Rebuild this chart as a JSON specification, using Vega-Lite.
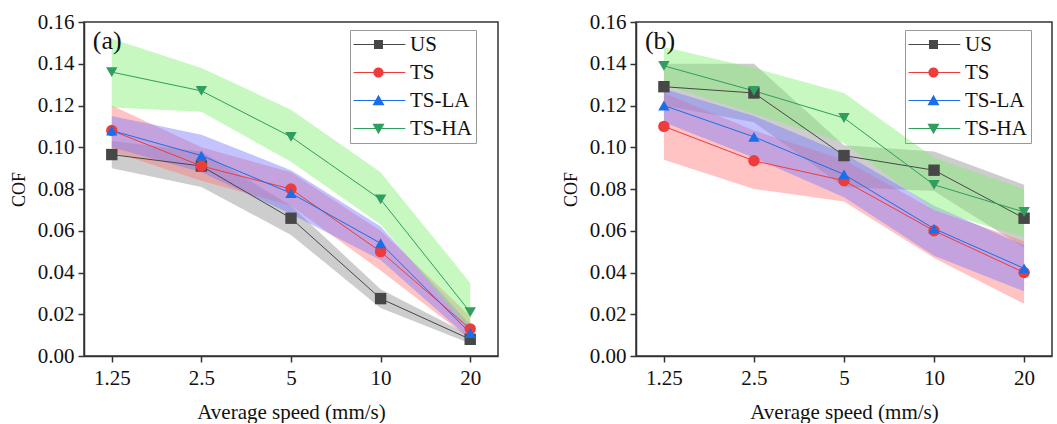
{
  "$schema": "https://vega.github.io/schema/vega-lite/v6.json",
  "padding": {"left": 9, "top": 10, "right": 2, "bottom": 0},
  "spacing": 62,
  "datasets": {
    "a": [
      {"series": "US", "speed": "1.25", "cof": 0.0965, "lo": 0.090, "hi": 0.103},
      {"series": "US", "speed": "2.5", "cof": 0.091, "lo": 0.081, "hi": 0.098},
      {"series": "US", "speed": "5", "cof": 0.066, "lo": 0.058, "hi": 0.072},
      {"series": "US", "speed": "10", "cof": 0.0275, "lo": 0.023, "hi": 0.032},
      {"series": "US", "speed": "20", "cof": 0.008, "lo": 0.006, "hi": 0.010},
      {"series": "TS", "speed": "1.25", "cof": 0.108, "lo": 0.098, "hi": 0.120},
      {"series": "TS", "speed": "2.5", "cof": 0.091, "lo": 0.084, "hi": 0.100},
      {"series": "TS", "speed": "5", "cof": 0.080, "lo": 0.072, "hi": 0.088},
      {"series": "TS", "speed": "10", "cof": 0.050, "lo": 0.041, "hi": 0.060},
      {"series": "TS", "speed": "20", "cof": 0.013, "lo": 0.008, "hi": 0.019},
      {"series": "TS-LA", "speed": "1.25", "cof": 0.108, "lo": 0.100, "hi": 0.115},
      {"series": "TS-LA", "speed": "2.5", "cof": 0.096, "lo": 0.088, "hi": 0.106},
      {"series": "TS-LA", "speed": "5", "cof": 0.078, "lo": 0.068, "hi": 0.089},
      {"series": "TS-LA", "speed": "10", "cof": 0.054, "lo": 0.046, "hi": 0.062},
      {"series": "TS-LA", "speed": "20", "cof": 0.011, "lo": 0.008, "hi": 0.015},
      {"series": "TS-HA", "speed": "1.25", "cof": 0.136, "lo": 0.119, "hi": 0.152},
      {"series": "TS-HA", "speed": "2.5", "cof": 0.127, "lo": 0.117, "hi": 0.138},
      {"series": "TS-HA", "speed": "5", "cof": 0.105, "lo": 0.093, "hi": 0.118},
      {"series": "TS-HA", "speed": "10", "cof": 0.075, "lo": 0.063, "hi": 0.088},
      {"series": "TS-HA", "speed": "20", "cof": 0.021, "lo": 0.012, "hi": 0.035}
    ],
    "b": [
      {"series": "US", "speed": "1.25", "cof": 0.129, "lo": 0.120, "hi": 0.140},
      {"series": "US", "speed": "2.5", "cof": 0.126, "lo": 0.112, "hi": 0.140},
      {"series": "US", "speed": "5", "cof": 0.096, "lo": 0.081, "hi": 0.101},
      {"series": "US", "speed": "10", "cof": 0.089, "lo": 0.079, "hi": 0.098},
      {"series": "US", "speed": "20", "cof": 0.066, "lo": 0.052, "hi": 0.082},
      {"series": "TS", "speed": "1.25", "cof": 0.110, "lo": 0.094, "hi": 0.126},
      {"series": "TS", "speed": "2.5", "cof": 0.0935, "lo": 0.080, "hi": 0.108},
      {"series": "TS", "speed": "5", "cof": 0.084, "lo": 0.074, "hi": 0.094},
      {"series": "TS", "speed": "10", "cof": 0.060, "lo": 0.047, "hi": 0.070},
      {"series": "TS", "speed": "20", "cof": 0.040, "lo": 0.025, "hi": 0.055},
      {"series": "TS-LA", "speed": "1.25", "cof": 0.120, "lo": 0.112, "hi": 0.128},
      {"series": "TS-LA", "speed": "2.5", "cof": 0.105, "lo": 0.095, "hi": 0.115},
      {"series": "TS-LA", "speed": "5", "cof": 0.087, "lo": 0.076, "hi": 0.097},
      {"series": "TS-LA", "speed": "10", "cof": 0.061, "lo": 0.048, "hi": 0.072},
      {"series": "TS-LA", "speed": "20", "cof": 0.042, "lo": 0.031, "hi": 0.053},
      {"series": "TS-HA", "speed": "1.25", "cof": 0.139, "lo": 0.130, "hi": 0.148},
      {"series": "TS-HA", "speed": "2.5", "cof": 0.127, "lo": 0.116, "hi": 0.138},
      {"series": "TS-HA", "speed": "5", "cof": 0.114, "lo": 0.102, "hi": 0.126},
      {"series": "TS-HA", "speed": "10", "cof": 0.082, "lo": 0.070, "hi": 0.095},
      {"series": "TS-HA", "speed": "20", "cof": 0.069, "lo": 0.057, "hi": 0.080}
    ]
  },
  "resolve": {
    "scale": {"color": "independent", "shape": "independent", "fill": "independent", "stroke": "independent"},
    "legend": {"color": "independent", "shape": "independent"}
  },
  "hconcat": [
    {
      "width": 414,
      "height": 334,
      "data": {"name": "a"},
      "resolve": {"scale": {"color": "independent", "shape": "independent"}},
      "layer": [
        {
          "mark": {"type": "area", "fillOpacity": 0.45},
          "encoding": {
            "x": {"field": "speed", "type": "ordinal", "sort": ["1.25", "2.5", "5", "10", "20"], "scale": {"type": "point", "padding": 0.31}, "axis": {"title": "Average speed (mm/s)", "labelAngle": 0, "tickSize": 6, "labelPadding": 5, "titlePadding": 13}},
            "y": {"field": "lo", "type": "quantitative", "stack": null, "scale": {"domain": [0, 0.16], "nice": false}, "axis": {"title": "COF", "titleFontSize": 18, "titlePadding": 9, "labelPadding": 4, "values": [0, 0.01, 0.02, 0.03, 0.04, 0.05, 0.06, 0.07, 0.08, 0.09, 0.1, 0.11, 0.12, 0.13, 0.14, 0.15, 0.16], "labelExpr": "round(datum.value*100) % 2 == 0 ? format(datum.value, '.2f') : ''", "tickSize": {"condition": {"test": "round(datum.value*100) % 2 == 0", "value": 6}, "value": 3}}},
            "y2": {"field": "hi"},
            "fill": {"field": "series", "type": "nominal", "scale": {"domain": ["US", "TS", "TS-LA", "TS-HA"], "range": ["#909090", "#ff7a7a", "#7a7aff", "#80f070"]}, "legend": null}
          }
        },
        {
          "mark": {"type": "line", "strokeWidth": 1},
          "encoding": {
            "x": {"field": "speed", "type": "ordinal", "sort": ["1.25", "2.5", "5", "10", "20"]},
            "y": {"field": "cof", "type": "quantitative"},
            "stroke": {"field": "series", "type": "nominal", "scale": {"domain": ["US", "TS", "TS-LA", "TS-HA"], "range": ["#474747", "#ee3b3b", "#1c6ee8", "#2f9e5e"]}, "legend": null}
          }
        },
        {
          "mark": {"type": "point", "filled": true, "opacity": 1, "size": 130},
          "encoding": {
            "x": {"field": "speed", "type": "ordinal", "sort": ["1.25", "2.5", "5", "10", "20"]},
            "y": {"field": "cof", "type": "quantitative"},
            "color": {"field": "series", "type": "nominal", "scale": {"domain": ["US", "TS", "TS-LA", "TS-HA"], "range": ["#474747", "#ee3b3b", "#1c6ee8", "#2f9e5e"]}, "legend": null},
            "shape": {"field": "series", "type": "nominal", "scale": {"domain": ["US", "TS", "TS-LA", "TS-HA"], "range": ["square", "circle", "triangle-up", "triangle-down"]}, "legend": null}
          }
        },
        {
          "transform": [{"filter": "false"}],
          "mark": {"type": "point", "filled": true, "opacity": 1},
          "encoding": {
            "x": {"field": "speed", "type": "ordinal", "sort": ["1.25", "2.5", "5", "10", "20"]},
            "y": {"field": "cof", "type": "quantitative"},
            "color": {"field": "series", "type": "nominal", "scale": {"domain": ["US", "TS", "TS-LA", "TS-HA"], "range": ["#474747", "#ee3b3b", "#1c6ee8", "#2f9e5e"]},
              "legend": {"title": null, "orient": "none", "legendX": 266, "legendY": 8, "symbolSize": 144, "symbolStrokeWidth": 0, "labelOffset": 35, "padding": 4, "rowPadding": 6, "strokeColor": "#999", "labelFontSize": 21, "labelFont": "Liberation Serif", "labelColor": "#111"}},
            "shape": {"field": "series", "type": "nominal", "scale": {"domain": ["US", "TS", "TS-LA", "TS-HA"], "range": [
                "M-1.83,-0.09H6.8V0.09H-1.83Z M1.58,-0.75H3.08V0.75H1.58Z",
                "M-1.83,-0.09H6.8V0.09H-1.83Z M1.48,0A0.85,0.85,0,1,1,3.18,0A0.85,0.85,0,1,1,1.48,0Z",
                "M-1.83,-0.09H6.8V0.09H-1.83Z M2.33,-0.95L3.33,0.8H1.33Z",
                "M-1.83,-0.09H6.8V0.09H-1.83Z M1.33,-0.8H3.33L2.33,0.95Z"]},
              "legend": {"title": null, "orient": "none", "legendX": 266, "legendY": 8, "symbolSize": 144, "symbolStrokeWidth": 0, "labelOffset": 35, "padding": 4, "rowPadding": 6, "strokeColor": "#999", "labelFontSize": 21, "labelFont": "Liberation Serif", "labelColor": "#111"}}
          }
        },
        {
          "data": {"values": [{"t": "(a)"}]},
          "mark": {"type": "text", "align": "left", "baseline": "middle", "dx": -19, "fontSize": 26, "font": "Liberation Serif", "color": "#111"},
          "encoding": {
            "x": {"datum": "1.25", "type": "ordinal"},
            "y": {"datum": 0.151, "type": "quantitative"},
            "text": {"field": "t"}
          }
        }
      ]
    },
    {
      "width": 416,
      "height": 334,
      "data": {"name": "b"},
      "resolve": {"scale": {"color": "independent", "shape": "independent"}},
      "layer": [
        {
          "mark": {"type": "area", "fillOpacity": 0.45},
          "encoding": {
            "x": {"field": "speed", "type": "ordinal", "sort": ["1.25", "2.5", "5", "10", "20"], "scale": {"type": "point", "padding": 0.31}, "axis": {"title": "Average speed (mm/s)", "labelAngle": 0, "tickSize": 6, "labelPadding": 5, "titlePadding": 13}},
            "y": {"field": "lo", "type": "quantitative", "stack": null, "scale": {"domain": [0, 0.16], "nice": false}, "axis": {"title": "COF", "titleFontSize": 18, "titlePadding": 9, "labelPadding": 4, "values": [0, 0.01, 0.02, 0.03, 0.04, 0.05, 0.06, 0.07, 0.08, 0.09, 0.1, 0.11, 0.12, 0.13, 0.14, 0.15, 0.16], "labelExpr": "round(datum.value*100) % 2 == 0 ? format(datum.value, '.2f') : ''", "tickSize": {"condition": {"test": "round(datum.value*100) % 2 == 0", "value": 6}, "value": 3}}},
            "y2": {"field": "hi"},
            "fill": {"field": "series", "type": "nominal", "scale": {"domain": ["US", "TS", "TS-LA", "TS-HA"], "range": ["#909090", "#ff7a7a", "#7a7aff", "#80f070"]}, "legend": null}
          }
        },
        {
          "mark": {"type": "line", "strokeWidth": 1},
          "encoding": {
            "x": {"field": "speed", "type": "ordinal", "sort": ["1.25", "2.5", "5", "10", "20"]},
            "y": {"field": "cof", "type": "quantitative"},
            "stroke": {"field": "series", "type": "nominal", "scale": {"domain": ["US", "TS", "TS-LA", "TS-HA"], "range": ["#474747", "#ee3b3b", "#1c6ee8", "#2f9e5e"]}, "legend": null}
          }
        },
        {
          "mark": {"type": "point", "filled": true, "opacity": 1, "size": 130},
          "encoding": {
            "x": {"field": "speed", "type": "ordinal", "sort": ["1.25", "2.5", "5", "10", "20"]},
            "y": {"field": "cof", "type": "quantitative"},
            "color": {"field": "series", "type": "nominal", "scale": {"domain": ["US", "TS", "TS-LA", "TS-HA"], "range": ["#474747", "#ee3b3b", "#1c6ee8", "#2f9e5e"]}, "legend": null},
            "shape": {"field": "series", "type": "nominal", "scale": {"domain": ["US", "TS", "TS-LA", "TS-HA"], "range": ["square", "circle", "triangle-up", "triangle-down"]}, "legend": null}
          }
        },
        {
          "transform": [{"filter": "false"}],
          "mark": {"type": "point", "filled": true, "opacity": 1},
          "encoding": {
            "x": {"field": "speed", "type": "ordinal", "sort": ["1.25", "2.5", "5", "10", "20"]},
            "y": {"field": "cof", "type": "quantitative"},
            "color": {"field": "series", "type": "nominal", "scale": {"domain": ["US", "TS", "TS-LA", "TS-HA"], "range": ["#474747", "#ee3b3b", "#1c6ee8", "#2f9e5e"]},
              "legend": {"title": null, "orient": "none", "legendX": 269, "legendY": 8, "symbolSize": 144, "symbolStrokeWidth": 0, "labelOffset": 35, "padding": 4, "rowPadding": 6, "strokeColor": "#999", "labelFontSize": 21, "labelFont": "Liberation Serif", "labelColor": "#111"}},
            "shape": {"field": "series", "type": "nominal", "scale": {"domain": ["US", "TS", "TS-LA", "TS-HA"], "range": [
                "M-1.83,-0.09H6.8V0.09H-1.83Z M1.58,-0.75H3.08V0.75H1.58Z",
                "M-1.83,-0.09H6.8V0.09H-1.83Z M1.48,0A0.85,0.85,0,1,1,3.18,0A0.85,0.85,0,1,1,1.48,0Z",
                "M-1.83,-0.09H6.8V0.09H-1.83Z M2.33,-0.95L3.33,0.8H1.33Z",
                "M-1.83,-0.09H6.8V0.09H-1.83Z M1.33,-0.8H3.33L2.33,0.95Z"]},
              "legend": {"title": null, "orient": "none", "legendX": 269, "legendY": 8, "symbolSize": 144, "symbolStrokeWidth": 0, "labelOffset": 35, "padding": 4, "rowPadding": 6, "strokeColor": "#999", "labelFontSize": 21, "labelFont": "Liberation Serif", "labelColor": "#111"}}
          }
        },
        {
          "data": {"values": [{"t": "(b)"}]},
          "mark": {"type": "text", "align": "left", "baseline": "middle", "dx": -19, "fontSize": 26, "font": "Liberation Serif", "color": "#111"},
          "encoding": {
            "x": {"datum": "1.25", "type": "ordinal"},
            "y": {"datum": 0.151, "type": "quantitative"},
            "text": {"field": "t"}
          }
        }
      ]
    }
  ],
  "config": {
    "font": "Liberation Serif",
    "view": {"stroke": "#333", "strokeWidth": 1.5},
    "axis": {"grid": false, "labelFont": "Liberation Serif", "titleFont": "Liberation Serif", "labelFontSize": 21, "titleFontSize": 21, "titleFontWeight": "normal", "labelColor": "#111", "titleColor": "#111", "domainColor": "#333", "tickColor": "#333", "domainWidth": 1.5, "tickWidth": 1.5},
    "legend": {"labelFont": "Liberation Serif", "labelFontSize": 21, "labelColor": "#111", "labelLimit": 300}
  }
}
